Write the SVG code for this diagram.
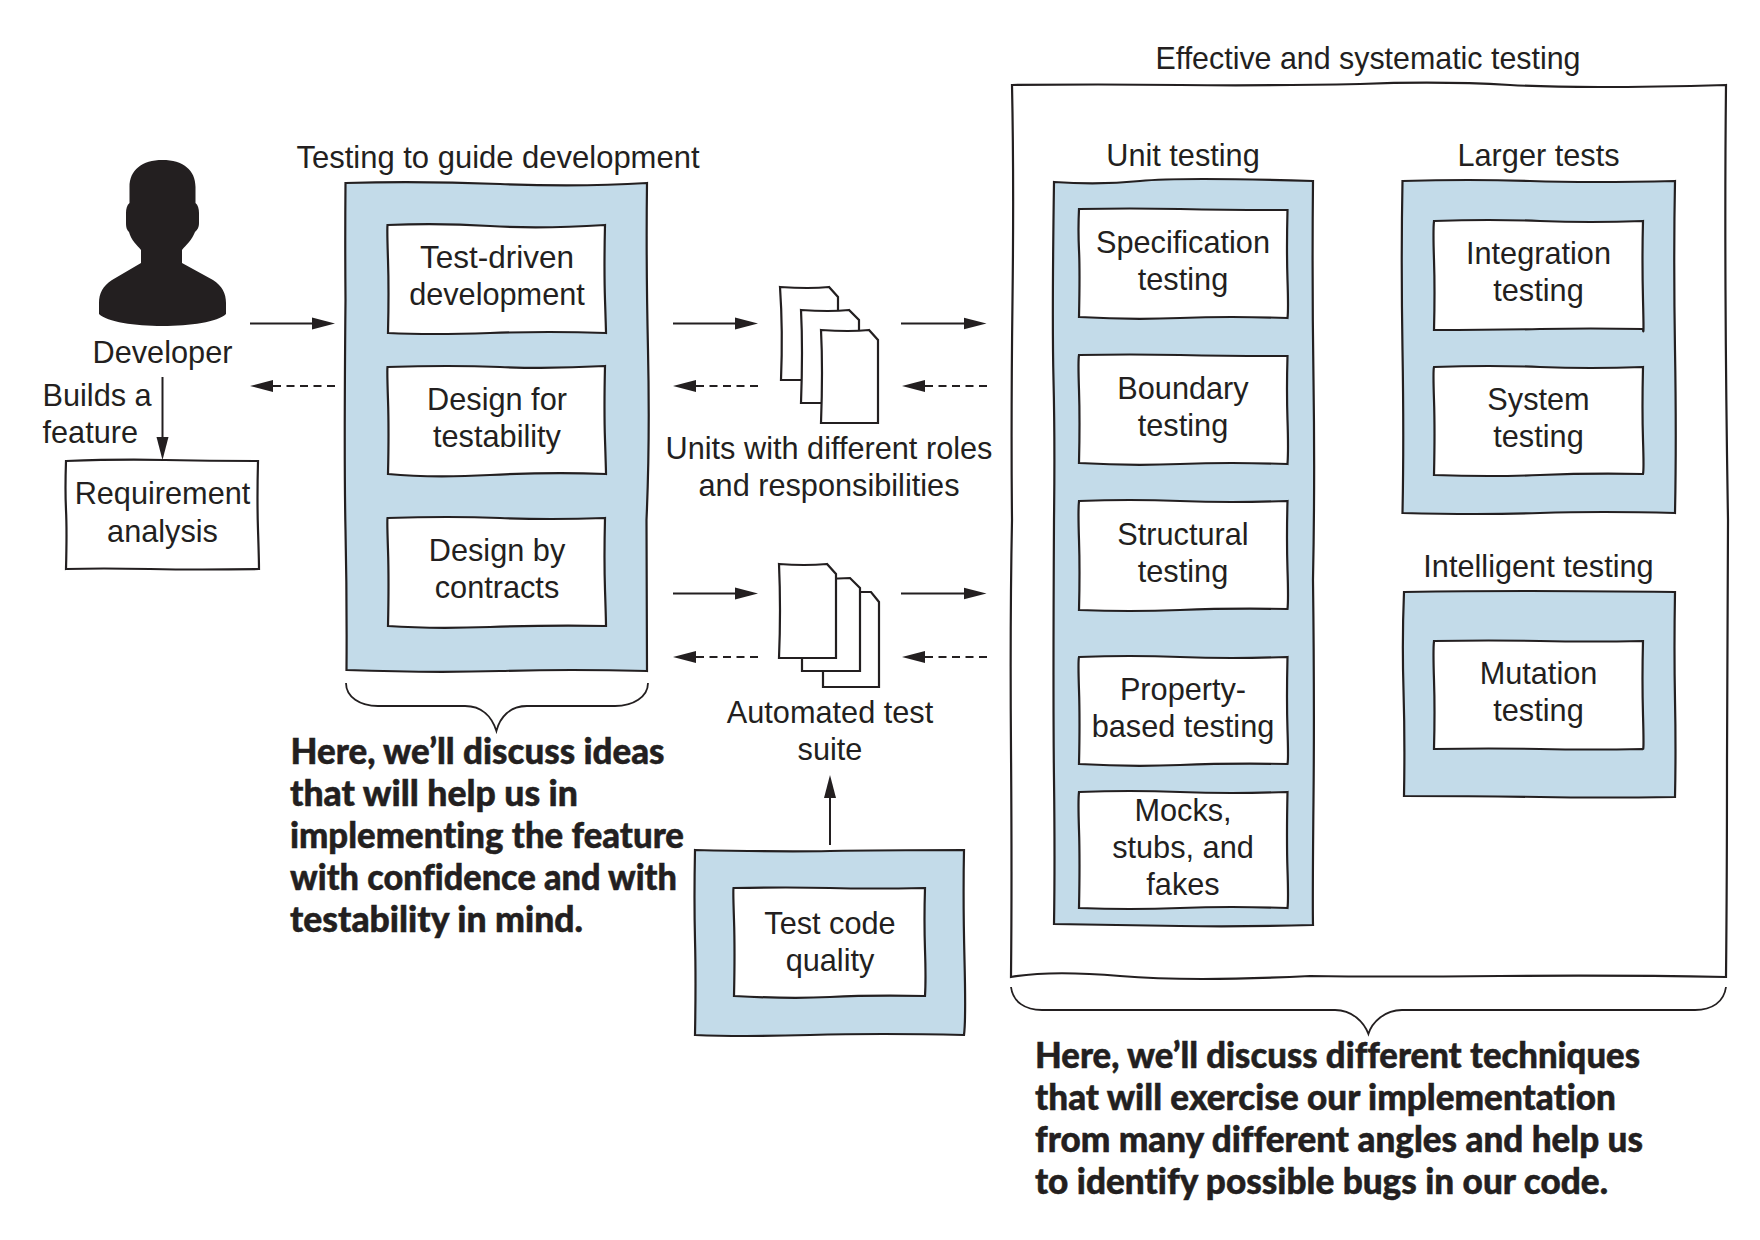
<svg xmlns="http://www.w3.org/2000/svg" width="1760" height="1240" viewBox="0 0 1760 1240">
<style>
text{font-family:"Liberation Sans",Arial,sans-serif;font-size:30.7px;fill:#231f20;text-anchor:middle}
.l{text-anchor:start}
.b{font-family:Lato,"Open Sans",sans-serif;font-size:36px;font-weight:900;text-anchor:start;stroke:#231f20;stroke-width:.5;font-variant-ligatures:none}
.o{fill:none;stroke:#231f20;stroke-width:2.2}
.w{fill:#fff;stroke:#231f20;stroke-width:2.2}
.f{fill:#c3dbe9;stroke:#231f20;stroke-width:2.2}
.a{fill:none;stroke:#231f20;stroke-width:2;marker-end:url(#h)}
.d{stroke-dasharray:8 5.5}
.s{fill:none;stroke:#231f20;stroke-width:1.8}
</style>
<defs>
<marker id="h" markerUnits="userSpaceOnUse" markerWidth="24" markerHeight="14" refX="15" refY="7" orient="auto"><path d="M0 1L23 7L0 13Z" fill="#231f20"/></marker>
</defs>

<g id="frame-effective"><path class="o" d="M1012 85Q1100 84 1180 85T1360 84Q1440 81 1510 85T1726 85Q1725 180 1725.500 290T1728 520Q1727 640 1727 760T1726 977Q1620 975 1500 976T1310 976Q1190 982 1120 976T1011 977Q1012 880 1011 750T1012 520Q1011 420 1012.500 300T1012 85Z"/><text x="1368" y="69" textLength="425" lengthAdjust="spacingAndGlyphs">Effective and systematic testing</text></g>

<g id="developer"><path fill="#231f20" d="M162.500 160C183 160 195.500 170 195.500 187L195.500 203C198 205 199 209 199 213L199 223C199 228 197 230 195 232C192 240 186 245 182 250L182 263L213 280C222 286 226 293 226 303L226 314C218 322 190 326 162.500 326C135 326 107 322 99 314L99 303C99 293 103 286 112 280L141 263L141 250C137 245 131 240 129 232C127 230 126 228 126 223L126 213C126 209 127 205 129.500 203L129.500 187C129.500 170 142 160 162.500 160Z"/><text x="162.500" y="363">Developer</text></g>
<g id="builds-label"><text class="l" x="42.500" y="406">Builds a</text><text class="l" x="42.500" y="443">feature</text></g>
<g id="requirement"><path class="w" d="M66 461Q120 459 165 460T258 461Q257 500 258 530T259 569Q200 570 150 569T66 569Q67 530 66 510T66 461Z"/><text x="162.500" y="504">Requirement</text><text x="162.500" y="542">analysis</text></g>

<g id="guide"><path class="f" d="M345.500 183Q420 181 500 184T647 183Q646 260 648 350T646.500 520Q647 600 647 671Q570 669 500 671T346.500 670Q347 600 345.500 530T345.500 300Q345 240 345.500 183Z"/><text x="498" y="168" textLength="403" lengthAdjust="spacingAndGlyphs">Testing to guide development</text>
<g id="test-driven"><path class="w" d="M387.500 225Q440 223 490 226T605 225Q604 270 605 300T606 333Q550 331 490 333T388 333Q389 290 388 260T387.500 225Z"/><text x="497" y="268" textLength="154" lengthAdjust="spacingAndGlyphs">Test-driven</text><text x="497" y="305">development</text></g>
<g id="design-testability"><path class="w" d="M387.500 367Q450 365 500 367T605 366Q604 410 605 440T606 474Q550 472 490 475T388 474Q389 430 388 400T387.500 367Z"/><text x="497" y="409.500">Design for</text><text x="497" y="447">testability</text></g>
<g id="design-contracts"><path class="w" d="M387.500 518Q450 516 500 518T605 518Q604 560 605 590T606 626Q550 625 490 627T388 626Q389 580 388 550T387.500 518Z"/><text x="497" y="560.500">Design by</text><text x="497" y="598">contracts</text></g>
</g>

<g id="units-docs"><path class="w" d="M780 287Q810 289 829 287L838 297L838 320L838 380L781 380Q783 330 780 287Z"/><path class="w" d="M801 310Q830 312 849 310L859 320L859 340L859 403L801 403Q803 350 801 310Z"/><path class="w" d="M821 330Q850 332 869 330L878 340L878 423L821 423Q823 370 821 330Z"/><text x="829" y="459">Units with different roles</text><text x="829" y="496">and responsibilities</text></g>

<g id="suite-docs"><path class="w" d="M823 592L871 592L879 602L879 687L823 687Z"/><path class="w" d="M802 580L850 578L860 588L860 671L802 671Z"/><path class="w" d="M779 564Q805 566 827 564L836 574L836 658L779 658Q781 610 779 564Z"/><text x="830" y="723">Automated test</text><text x="830" y="760">suite</text></g>

<g id="code-quality"><path class="f" d="M695 850Q780 852 830 851T964 850Q963 900 964.500 960T964 1035Q880 1033 810 1035T695 1035Q696 980 695 940T695 850Z"/><path class="w" d="M733.500 888Q790 887 830 888T925 888Q924 920 925 950T925 996Q870 995 830 997T734 996Q735 950 734 920T733.500 888Z"/><text x="830" y="934">Test code</text><text x="830" y="971">quality</text></g>

<g id="unit-testing"><path class="f" d="M1054 182Q1100 185 1140 181T1313 181Q1312 280 1313.500 380T1313 580Q1314.500 700 1313.500 800T1313 925Q1240 927 1180 926T1054 924Q1055 860 1054 780T1054 520Q1055 440 1053.500 380T1054 182Z"/><text x="1183" y="165.500">Unit testing</text>
<g id="spec"><path class="w" d="M1079 209Q1130 208 1180 209T1287.500 210Q1286.500 250 1287.500 280T1287.500 318Q1230 316 1180 318T1079 317Q1080 270 1079 250T1079 209Z"/><text x="1183" y="252.500">Specification</text><text x="1183" y="290">testing</text></g>
<g id="boundary"><path class="w" d="M1079 355Q1130 354 1180 355T1287.500 356Q1286.500 390 1287.500 420T1287.500 464Q1230 462 1180 464T1079 463Q1080 420 1079 390T1079 355Z"/><text x="1183" y="399">Boundary</text><text x="1183" y="435.500">testing</text></g>
<g id="structural"><path class="w" d="M1079 501Q1130 499 1180 501T1287.500 501Q1286.500 540 1287.500 570T1287.500 609Q1230 608 1180 610T1079 610Q1080 570 1079 540T1079 501Z"/><text x="1183" y="545">Structural</text><text x="1183" y="582">testing</text></g>
<g id="property"><path class="w" d="M1079 657Q1130 655 1180 657T1287.500 657Q1286.500 700 1287.500 730T1287.500 764Q1230 763 1180 765T1079 764Q1080 720 1079 690T1079 657Z"/><text x="1183" y="700">Property-</text><text x="1183" y="737">based testing</text></g>
<g id="mocks"><path class="w" d="M1079 792Q1130 790 1180 792T1287.500 792Q1286.500 840 1287.500 870T1287.500 908Q1230 906 1180 908T1079 908Q1080 860 1079 830T1079 792Z"/><text x="1183" y="820.500">Mocks,</text><text x="1183" y="858">stubs, and</text><text x="1183" y="895">fakes</text></g>
</g>

<g id="larger-tests"><path class="f" d="M1402.500 181Q1470 179 1530 181T1675 181Q1673.500 260 1675 350T1675 513Q1600 511 1540 513T1402.500 513Q1404 440 1402.500 350T1402.500 181Z"/><text x="1538.500" y="165.500">Larger tests</text>
<g id="integration"><path class="w" d="M1434 221Q1490 219 1540 221T1643 221Q1642 260 1643 300T1643 329Q1590 328 1540 329T1434 330Q1435 290 1434 260T1434 221Z"/><text x="1538.500" y="264">Integration</text><text x="1538.500" y="301">testing</text></g>
<g id="system"><path class="w" d="M1434 367Q1490 365 1540 367T1643 367Q1642 410 1643 440T1643 474Q1590 473 1540 475T1434 475Q1435 430 1434 400T1434 367Z"/><text x="1538.500" y="410">System</text><text x="1538.500" y="447">testing</text></g>
</g>

<g id="intelligent"><path class="f" d="M1404 592Q1470 591 1530 591T1675 592Q1674 650 1675 700T1675 797Q1600 798 1540 797T1404 796Q1405 740 1403.500 690T1404 592Z"/><text x="1538.500" y="576.500">Intelligent testing</text>
<g id="mutation"><path class="w" d="M1434 641Q1490 640 1540 641T1643 641Q1642 680 1643 715T1643 749Q1590 750 1540 749T1434 749Q1435 710 1434 680T1434 641Z"/><text x="1538.500" y="684">Mutation</text><text x="1538.500" y="721">testing</text></g>
</g>

<g id="connectors">
<line class="a" x1="250" y1="323.500" x2="327" y2="323.500"/>
<line class="a d" x1="335" y1="386" x2="258" y2="386"/>
<line class="a" x1="162.500" y1="377" x2="162.500" y2="452"/>
<line class="a" x1="673" y1="323.500" x2="750" y2="323.500"/>
<line class="a d" x1="758" y1="386" x2="681" y2="386"/>
<line class="a" x1="901" y1="323.500" x2="978.500" y2="323.500"/>
<line class="a d" x1="987" y1="386" x2="910" y2="386"/>
<line class="a" x1="673" y1="593.500" x2="750" y2="593.500"/>
<line class="a d" x1="758" y1="657" x2="681" y2="657"/>
<line class="a" x1="901" y1="593.500" x2="978.500" y2="593.500"/>
<line class="a d" x1="987" y1="657" x2="910" y2="657"/>
<line class="a" x1="830" y1="845" x2="830" y2="783"/>
<path class="s" d="M346 683C346 697 360 706 378 706L465 706C482 706 492 717 496.400 731C500 717 510 706 527 706L615 706C633 706 648 697 648 683"/>
<path class="s" d="M1011 987C1013 1002 1025 1010 1042 1010L1335 1010C1352 1010 1364 1022 1368.400 1034C1372 1022 1385 1010 1402 1010L1695 1010C1712 1010 1724 1002 1726 987"/>
</g>

<g id="note-left">
<text class="b" x="290.500" y="763.500" textLength="374" lengthAdjust="spacingAndGlyphs">Here, we’ll discuss ideas</text>
<text class="b" x="290" y="805.500" textLength="288" lengthAdjust="spacingAndGlyphs">that will help us in</text>
<text class="b" x="290" y="847.500" textLength="394" lengthAdjust="spacingAndGlyphs">implementing the feature</text>
<text class="b" x="290" y="889.500" textLength="387" lengthAdjust="spacingAndGlyphs">with confidence and with</text>
<text class="b" x="290" y="931.500" textLength="293" lengthAdjust="spacingAndGlyphs">testability in mind.</text>
</g>
<g id="note-right">
<text class="b" x="1035" y="1067.500" textLength="605" lengthAdjust="spacingAndGlyphs">Here, we’ll discuss different techniques</text>
<text class="b" x="1035" y="1109.500" textLength="581" lengthAdjust="spacingAndGlyphs">that will exercise our implementation</text>
<text class="b" x="1035" y="1151.500" textLength="608" lengthAdjust="spacingAndGlyphs">from many different angles and help us</text>
<text class="b" x="1035" y="1193.500" textLength="573" lengthAdjust="spacingAndGlyphs">to identify possible bugs in our code.</text>
</g>
</svg>
